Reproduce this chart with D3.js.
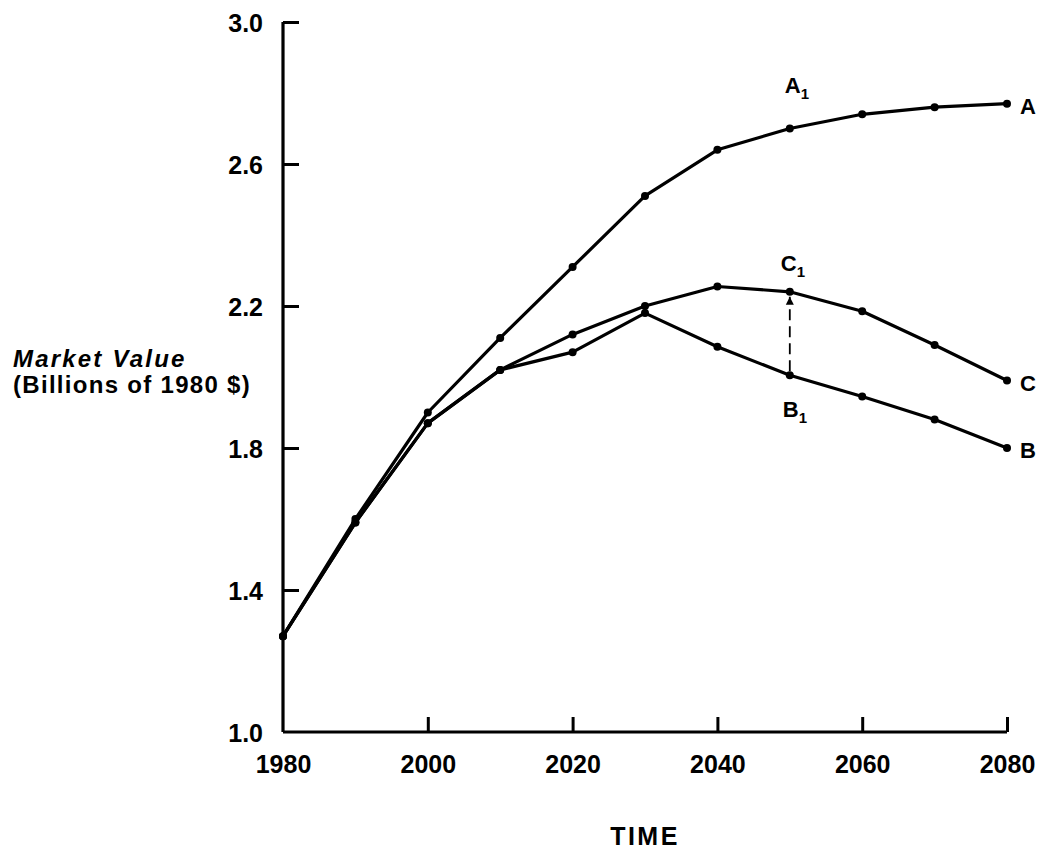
<!DOCTYPE html>
<html>
<head>
	<meta charset="utf-8">
	<script src="https://d3js.org/d3.v7.min.js"></script>
	<title>Market Value</title>
	<style type="text/css">
		body {
			margin: 0;
			background: #fff;
		}
		text {
			font-family: "Liberation Sans", Arial, Helvetica, sans-serif;
			fill: #000;
		}
	</style>
</head>
<body>
	<div id="chartContainer"></div>

	<script type="text/javascript">
	// values
	var years = [1980, 1990, 2000, 2010, 2020, 2030, 2040, 2050, 2060, 2070, 2080];
	var seriesA = [1.27, 1.60, 1.90, 2.11, 2.31, 2.51, 2.64, 2.70, 2.74, 2.76, 2.77];
	var seriesB = [1.27, 1.59, 1.87, 2.02, 2.07, 2.18, 2.085, 2.005, 1.945, 1.88, 1.80];
	var seriesC = [1.27, 1.59, 1.87, 2.02, 2.12, 2.20, 2.255, 2.24, 2.185, 2.09, 1.99];
	var xTicks = [1980, 2000, 2020, 2040, 2060, 2080];
	var yTicks = [1.0, 1.4, 1.8, 2.2, 2.6, 3.0];
	var markYear = 2050;

	var width = 1037, height = 849;
	var svg = d3.select('#chartContainer').append('svg')
		.attr('width', width)
		.attr('height', height);

	var x = d3.scaleLinear().domain([1980, 2080]).range([283, 1007]);
	var y = d3.scaleLinear().domain([1.0, 3.0]).range([732, 22]);

	// axes (ticks point inward, like the original)
	var yAxis = d3.axisLeft(y).tickValues(yTicks).tickSize(-16).tickPadding(36)
		.tickFormat(d3.format('.1f'));
	var xAxis = d3.axisBottom(x).tickValues(xTicks).tickSize(-15).tickPadding(23)
		.tickFormat(d3.format('d'));

	var gy = svg.append('g').attr('transform', 'translate(' + x(1980) + ',0)').call(yAxis);
	var gx = svg.append('g').attr('transform', 'translate(0,' + y(1.0) + ')').call(xAxis);

	[gy, gx].forEach(function (g) {
		g.select('.domain').attr('stroke', '#000').attr('stroke-width', 3.2);
		g.selectAll('.tick line').attr('stroke', '#000').attr('stroke-width', 3);
		g.selectAll('.tick text')
			.style('font-size', '25px')
			.style('font-weight', 'bold')
			.style('font-family', '"Liberation Sans", Arial, sans-serif');
	});
	gy.select('.domain').attr('d', 'M0,' + y(3.0) + 'V' + y(1.0));
	gx.select('.domain').attr('d', 'M' + x(1980) + ',0H' + x(2080));
	gy.selectAll('.tick').filter(function (d) { return d === 1.0; }).select('line').remove();
	gx.selectAll('.tick').filter(function (d) { return d === 1980; }).select('line').remove();
	gy.selectAll('.tick text').attr('dx', 16).attr('dy', '0.36em');

	// axis titles
	var ylab = svg.append('text')
		.attr('x', 13)
		.style('font-size', '24px')
		.style('font-weight', 'bold');
	ylab.append('tspan').attr('x', 13).attr('y', 367)
		.style('font-style', 'italic')
		.style('letter-spacing', '2.2px')
		.text('Market Value');
	ylab.append('tspan').attr('x', 13).attr('y', 393)
		.style('letter-spacing', '1.3px')
		.text('(Billions of 1980 $)');

	svg.append('text')
		.attr('x', (x(1980) + x(2080)) / 2)
		.attr('y', 845)
		.attr('text-anchor', 'middle')
		.style('font-size', '25px')
		.style('font-weight', 'bold')
		.style('letter-spacing', '2.5px')
		.text('TIME');

	// lines
	var line = d3.line()
		.x(function (d) { return x(d[0]); })
		.y(function (d) { return y(d[1]); });

	var series = [
		{ name: 'A', values: seriesA },
		{ name: 'B', values: seriesB },
		{ name: 'C', values: seriesC }
	];

	series.forEach(function (s) {
		var pts = years.map(function (yr, i) { return [yr, s.values[i]]; });
		svg.append('path')
			.datum(pts)
			.attr('fill', 'none')
			.attr('stroke', '#000')
			.attr('stroke-width', 3.2)
			.attr('stroke-linejoin', 'round')
			.attr('d', line);
		svg.selectAll(null)
			.data(pts)
			.enter().append('circle')
			.attr('cx', function (d) { return x(d[0]); })
			.attr('cy', function (d) { return y(d[1]); })
			.attr('r', 4)
			.attr('fill', '#000');

		// end label
		svg.append('text')
			.attr('x', x(2080) + 13)
			.attr('y', y(s.values[s.values.length - 1]) + 10)
			.style('font-size', '22px')
			.style('font-weight', 'bold')
			.text(s.name);
	});

	// dashed arrow from B1 up to C1
	var mi = years.indexOf(markYear);
	svg.append('defs').append('marker')
		.attr('id', 'arrow')
		.attr('viewBox', '0 0 10 10')
		.attr('refX', 10).attr('refY', 5)
		.attr('markerWidth', 8).attr('markerHeight', 10)
		.attr('markerUnits', 'userSpaceOnUse')
		.attr('orient', 'auto')
		.append('path').attr('d', 'M0,0L10,5L0,10Z').attr('fill', '#000');

	svg.append('line')
		.attr('x1', x(markYear)).attr('y1', y(seriesB[mi]) - 4)
		.attr('x2', x(markYear)).attr('y2', y(seriesC[mi]) + 5)
		.attr('stroke', '#000')
		.attr('stroke-width', 1.8)
		.attr('stroke-dasharray', '11,6')
		.attr('marker-end', 'url(#arrow)');

	// point labels with subscripts
	function subLabel(letter, px, py) {
		var t = svg.append('text')
			.attr('x', px).attr('y', py)
			.style('font-size', '22px')
			.style('font-weight', 'bold');
		t.append('tspan').text(letter);
		t.append('tspan').attr('dy', 6).style('font-size', '15px').text('1');
	}
	subLabel('A', x(markYear) - 5, y(seriesA[mi]) - 36);
	subLabel('C', x(markYear) - 9, y(seriesC[mi]) - 21);
	subLabel('B', x(markYear) - 7, y(seriesB[mi]) + 42);
	</script>
</body>
</html>
